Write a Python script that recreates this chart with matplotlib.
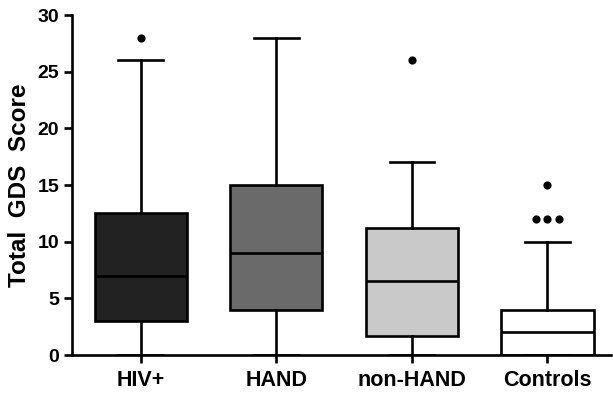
import matplotlib.pyplot as plt

plt.rcParams['font.family'] = ['Liberation Sans', 'DejaVu Sans']
plt.rcParams['font.weight'] = 'bold'

# 数据
groups = ['HIV+', 'HAND', 'non-HAND', 'Controls']
whislo = [0, 0, 0, 0]
q1 = [3, 4, 1.7, 0]
med = [7, 9, 6.5, 2]
q3 = [12.5, 15, 11.2, 4]
whishi = [26, 28, 17, 10]
outliers = [[28], [], [26], [15, 12, 12, 12]]
colors = ['#222222', '#6a6a6a', '#c9c9c9', '#ffffff']

stats = []
for i, g in enumerate(groups):
    stats.append(dict(label=g, whislo=whislo[i], q1=q1[i], med=med[i],
                      q3=q3[i], whishi=whishi[i], fliers=[]))

fig = plt.figure(figsize=(6.13, 3.95), dpi=100)
ax = fig.add_axes([0.117, 0.101, 0.88, 0.861])

lw = 1.9
pos = list(range(1, len(groups) + 1))
bp = ax.bxp(stats, positions=pos, widths=0.68, patch_artist=True,
            showfliers=False,
            boxprops=dict(linewidth=lw, edgecolor='black'),
            medianprops=dict(color='black', linewidth=lw),
            whiskerprops=dict(color='black', linewidth=lw),
            capprops=dict(color='black', linewidth=lw),
            capwidths=0.33)
for patch, c in zip(bp['boxes'], colors):
    patch.set_facecolor(c)

# 离群点 (相同数值水平错开)
for p, vals in zip(pos, outliers):
    seen = {}
    for v in vals:
        seen.setdefault(v, 0)
        seen[v] += 1
    for v, n in seen.items():
        offs = [(k - (n - 1) / 2) * 0.082 for k in range(n)]
        ax.scatter([p + o for o in offs], [v] * n, s=24, color='black', zorder=5)

ax.set_xlim(0.49, 4.47)
ax.set_ylim(0, 30)
ax.set_yticks([0, 5, 10, 15, 20, 25, 30])
ax.set_xticks(pos)
ax.set_xticklabels(groups, fontsize=15.5)
ax.set_ylabel('Total  GDS  Score', fontsize=17.5, fontweight='bold', labelpad=5)

for s in ['top', 'right']:
    ax.spines[s].set_visible(False)
for s in ['left', 'bottom']:
    ax.spines[s].set_linewidth(lw)
ax.tick_params(axis='both', width=lw, length=6)
ax.tick_params(axis='y', labelsize=14, pad=3)
ax.tick_params(axis='x', pad=5)

plt.savefig('out.png', dpi=100)
plt.close()
